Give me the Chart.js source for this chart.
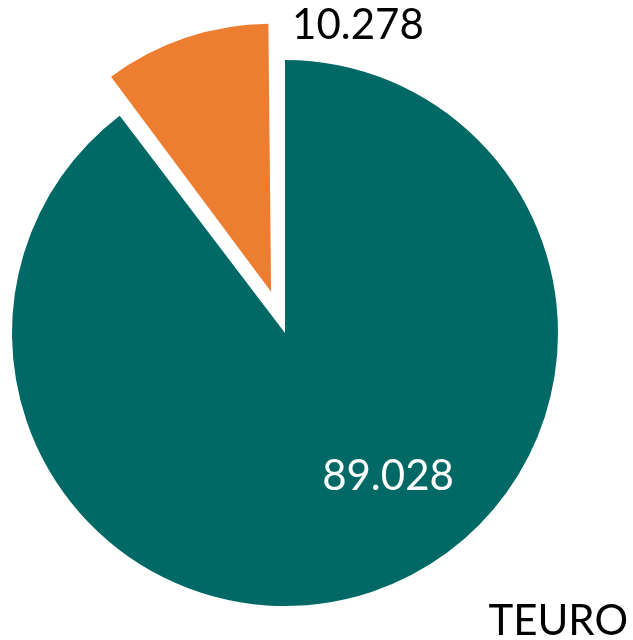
<!DOCTYPE html>
<html>
<head>
<meta charset="utf-8">
<script src="https://cdn.jsdelivr.net/npm/chart.js@4/dist/chart.umd.min.js"></script>
<style>
html,body{margin:0;padding:0;background:#fff;}
#wrap{width:633px;height:640px;position:relative;}
</style>
</head>
<body>
<div id="wrap"><canvas id="c" width="633" height="640"></canvas></div>
<script>
const categories = ["A", "B"];
const values = [89028, 10278];
const colors = ["#006965", "#ED7D31"];
const offsets = [0, 174];
const unitLabel = "TEURO";

function fmt(v) {
  return String(v).replace(/\B(?=(\d{3})+(?!\d))/g, ".");
}

const labelPlugin = {
  id: 'labels',
  afterDatasetsUpdate(chart) {
    const meta = chart.getDatasetMeta(0);
    const a = meta.data[1];
    if (a) {
      const circ = a.endAngle - a.startAngle;
      const fix = 1 - Math.sin(Math.min(Math.PI, circ));
      const target = a.outerRadius * 268 / 273;
      a.outerRadius = target - (offsets[1] / 4) * fix;
    }
  },
  afterDatasetsDraw(chart) {
    const ctx = chart.ctx;
    const meta = chart.getDatasetMeta(0);
    const font = '42px Lato, "Open Sans", sans-serif';
    ctx.save();
    ctx.font = font;
    ctx.textAlign = 'center';
    ctx.textBaseline = 'middle';
    // teal slice label inside
    const a0 = meta.data[0];
    const ang0 = 54.2 * Math.PI / 180, r0 = a0.outerRadius * 0.645;
    ctx.fillStyle = '#ffffff';
    ctx.fillText(fmt(values[0]), a0.x + Math.cos(ang0) * r0, a0.y + Math.sin(ang0) * r0 + 1);
    // orange slice label outside
    const a1 = meta.data[1];
    const mid = (a1.startAngle + a1.endAngle) / 2;
    const ox = a1.x + Math.cos(mid) * offsets[1] / 4;
    const oy = a1.y + Math.sin(mid) * offsets[1] / 4;
    const ang1 = -72 * Math.PI / 180, r1 = 281;
    ctx.fillStyle = '#000000';
    ctx.fillText(fmt(values[1]), ox + Math.cos(ang1) * r1, oy + Math.sin(ang1) * r1 + 1);
    // unit label
    ctx.textAlign = 'right';
    ctx.fillText(unitLabel, 628, 621);
    ctx.restore();
  }
};

new Chart(document.getElementById('c'), {
  type: 'pie',
  data: {
    labels: categories,
    datasets: [{
      data: values,
      backgroundColor: colors,
      borderWidth: 0,
      offset: offsets,
      hoverOffset: 0,
      clip: false
    }]
  },
  options: {
    responsive: false,
    animation: false,
    radius: 273,
    layout: { padding: { left: 0, right: 63, top: 26, bottom: 0 } },
    plugins: {
      legend: { display: false },
      tooltip: { enabled: false },
      title: { display: false }
    },
    events: []
  },
  plugins: [labelPlugin]
});
</script>
</body>
</html>
